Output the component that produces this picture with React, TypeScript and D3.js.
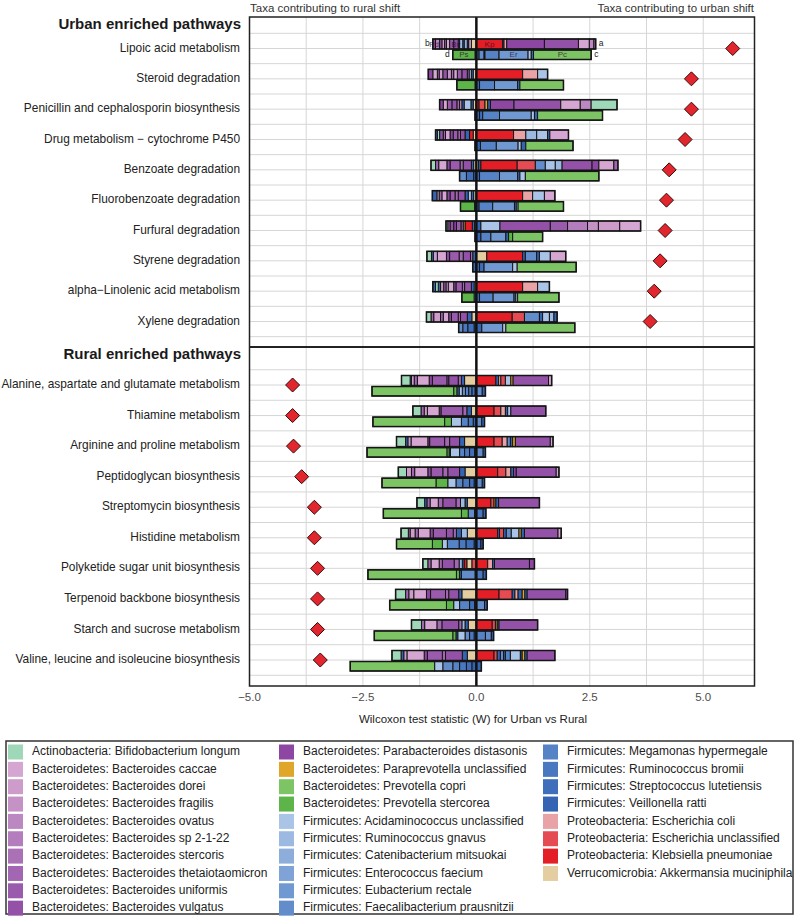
import React from 'react';
import * as d3 from 'd3';

type Seg = [string, number];

// legend / taxa
const taxonNames = [
  'Actinobacteria: Bifidobacterium longum',
  'Bacteroidetes: Bacteroides caccae',
  'Bacteroidetes: Bacteroides dorei',
  'Bacteroidetes: Bacteroides fragilis',
  'Bacteroidetes: Bacteroides ovatus',
  'Bacteroidetes: Bacteroides sp 2-1-22',
  'Bacteroidetes: Bacteroides stercoris',
  'Bacteroidetes: Bacteroides thetaiotaomicron',
  'Bacteroidetes: Bacteroides uniformis',
  'Bacteroidetes: Bacteroides vulgatus',
  'Bacteroidetes: Parabacteroides distasonis',
  'Bacteroidetes: Paraprevotella unclassified',
  'Bacteroidetes: Prevotella copri',
  'Bacteroidetes: Prevotella stercorea',
  'Firmicutes: Acidaminococcus unclassified',
  'Firmicutes: Ruminococcus gnavus',
  'Firmicutes: Catenibacterium mitsuokai',
  'Firmicutes: Enterococcus faecium',
  'Firmicutes: Eubacterium rectale',
  'Firmicutes: Faecalibacterium prausnitzii',
  'Firmicutes: Megamonas hypermegale',
  'Firmicutes: Ruminococcus bromii',
  'Firmicutes: Streptococcus lutetiensis',
  'Firmicutes: Veillonella ratti',
  'Proteobacteria: Escherichia coli',
  'Proteobacteria: Escherichia unclassified',
  'Proteobacteria: Klebsiella pneumoniae',
  'Verrucomicrobia: Akkermansia muciniphila',
];
const taxonCodes = ['Bl', 'Bc', 'Bd', 'Bf', 'Bo', 'Bs', 'Bst', 'Bt', 'Bu', 'Bv', 'Pd', 'Pu', 'Pc', 'Ps',
  'Au', 'Rg', 'Cm', 'Ef', 'Er', 'Fp', 'Mh', 'Rb', 'Sl', 'Vr', 'Ec', 'Eu', 'Kp', 'Am'];
const taxonColors = ['#9fd8b8', '#d6a6d2', '#cd9ccb', '#c592c6', '#bc88c2', '#b47dbd', '#ab71b7', '#a366b2',
  '#9b5bad', '#9451a8', '#8d47a3', '#e0a62a', '#7dc465', '#5db449', '#a9c4e7', '#9bb9e1', '#8daedb',
  '#7fa3d6', '#7098d1', '#638ccb', '#5682c6', '#4a78c0', '#3f6eba', '#3564b3', '#e9a3a7', '#e44b53',
  '#e41e27', '#e4cda1'];

// urban enriched panel
const urbanPathways = [
  'Lipoic acid metabolism', 'Steroid degradation', 'Penicillin and cephalosporin biosynthesis',
  'Drug metabolism \u2212 cytochrome P450', 'Benzoate degradation', 'Fluorobenzoate degradation',
  'Furfural degradation', 'Styrene degradation', 'alpha\u2212Linolenic acid metabolism', 'Xylene degradation',
];
const urbanW = [5.65, 4.74, 4.74, 4.6, 4.25, 4.19, 4.16, 4.05, 3.92, 3.83];
const urbanUpperNeg: Seg[][] = [
  [['Am', 0.11], ['Bc', 0.06], ['Vr', 0.03], ['Cm', 0.07], ['Sl', 0.03], ['Rg', 0.07], ['Bt', 0.03], ['Bv', 0.1], ['Bu', 0.09], ['Bc', 0.07], ['Bt', 0.04], ['Bd', 0.06], ['Bu', 0.05], ['Bo', 0.09], ['Pd', 0.06]],
  [['Am', 0.07], ['Vr', 0.04], ['Rg', 0.05], ['Bt', 0.04], ['Bv', 0.12], ['Bu', 0.1], ['Bc', 0.08], ['Bt', 0.05], ['Bf', 0.09], ['Bv', 0.1], ['Bd', 0.08], ['Bt', 0.04], ['Bc', 0.1], ['Pd', 0.1]],
  [['Am', 0.07], ['Vr', 0.05], ['Au', 0.15], ['Vr', 0.05], ['Bd', 0.05], ['Bt', 0.06], ['Bv', 0.11], ['Bu', 0.1], ['Bc', 0.09], ['Pd', 0.08]],
  [['Am', 0.07], ['Kp', 0.08], ['Vr', 0.1], ['Bv', 0.1], ['Bt', 0.06], ['Bu', 0.1], ['Pd', 0.07], ['Bc', 0.1], ['Bt', 0.05], ['Bv', 0.08], ['Bl', 0.05], ['Vr', 0.04]],
  [['Am', 0.06], ['Vr', 0.05], ['Bv', 0.18], ['Bt', 0.07], ['Bu', 0.22], ['Pd', 0.07], ['Bc', 0.18], ['Bt', 0.07], ['Bl', 0.1]],
  [['Am', 0.06], ['Vr', 0.05], ['Au', 0.07], ['Vr', 0.07], ['Bv', 0.15], ['Bt', 0.07], ['Bu', 0.11], ['Pd', 0.07], ['Bc', 0.11], ['Bt', 0.06], ['Bd', 0.05], ['Vr', 0.1]],
  [['Am', 0.04], ['Vr', 0.05], ['Kp', 0.16], ['Pu', 0.04], ['Bt', 0.05], ['Bu', 0.1], ['Pd', 0.06], ['Bv', 0.08], ['Bt', 0.05], ['Bl', 0.04]],
  [['Vr', 0.08], ['Bt', 0.05], ['Bv', 0.16], ['Bt', 0.09], ['Bu', 0.21], ['Pd', 0.07], ['Bc', 0.2], ['Bd', 0.09], ['Vr', 0.04], ['Bl', 0.1]],
  [['Am', 0.05], ['Vr', 0.06], ['Bv', 0.15], ['Bt', 0.05], ['Bu', 0.14], ['Pd', 0.05], ['Bc', 0.12], ['Bd', 0.05], ['Bt', 0.05], ['Bf', 0.07], ['Vr', 0.05], ['Bl', 0.06], ['Vr', 0.06]],
  [['Am', 0.1], ['Vr', 0.1], ['Bv', 0.15], ['Bt', 0.05], ['Bu', 0.15], ['Pd', 0.06], ['Bc', 0.12], ['Bt', 0.06], ['Bd', 0.15], ['Bt', 0.06], ['Bl', 0.1]],
];
const urbanUpperPos: Seg[][] = [
  [['Kp', 0.58], ['Vr', 0.03], ['Ec', 0.06], ['Pd', 0.83], ['Bv', 0.75], ['Bc', 0.24], ['Bo', 0.1], ['Bt', 0.04]],
  [['Kp', 1.02], ['Ec', 0.33], ['Au', 0.22]],
  [['Kp', 0.06], ['Eu', 0.13], ['Pu', 0.06], ['Vr', 0.06], ['Pd', 0.52], ['Bv', 1.03], ['Bc', 0.43], ['Bo', 0.24], ['Bl', 0.57]],
  [['Kp', 0.82], ['Ec', 0.27], ['Rg', 0.24], ['Au', 0.24], ['Vr', 0.05], ['Bc', 0.41]],
  [['Am', 0.05], ['Vr', 0.05], ['Kp', 0.8], ['Eu', 0.4], ['Fp', 0.22], ['Au', 0.22], ['Rg', 0.15], ['Bv', 0.66], ['Pd', 0.15], ['Bc', 0.33], ['Bt', 0.09]],
  [['Kp', 1.02], ['Ec', 0.22], ['Au', 0.26], ['Bc', 0.23]],
  [['Vr', 0.1], ['Au', 0.42], ['Bv', 1.11], ['Bu', 0.38], ['Bs', 0.44], ['Bf', 0.24], ['Bd', 0.47], ['Bc', 0.46]],
  [['Am', 0.23], ['Kp', 0.79], ['Vr', 0.06], ['Fp', 0.25], ['Vr', 0.06], ['Au', 0.24], ['Bc', 0.34]],
  [['Kp', 1.02], ['Ec', 0.33], ['Au', 0.26]],
  [['Kp', 0.79], ['Eu', 0.27], ['Fp', 0.33], ['Vr', 0.07], ['Au', 0.15], ['Rg', 0.1], ['Vr', 0.07]],
];
const urbanLowerNeg: Seg[][] = [
  [['Vr', 0.03], ['Ps', 0.49]],
  [['Vr', 0.03], ['Ps', 0.4]],
  [['Vr', 0.03]],
  [['Vr', 0.03]],
  [['Vr', 0.06], ['Sl', 0.16], ['Fp', 0.15]],
  [['Vr', 0.04], ['Ps', 0.31]],
  [['Vr', 0.03]],
  [['Vr', 0.08]],
  [['Vr', 0.05], ['Ps', 0.27]],
  [['Vr', 0.05], ['Sl', 0.14], ['Rb', 0.11], ['Fp', 0.09]],
];
const urbanLowerPos: Seg[][] = [
  [['Sl', 0.06], ['Fp', 0.11], ['Vr', 0.02], ['Mh', 0.31], ['Er', 0.64], ['Au', 0.07], ['Vr', 0.05], ['Pc', 1.27]],
  [['Vr', 0.07], ['Mh', 0.33], ['Er', 0.51], ['Sl', 0.05], ['Pc', 0.96]],
  [['Vr', 0.07], ['Sl', 0.07], ['Mh', 0.37], ['Er', 0.7], ['Au', 0.07], ['Vr', 0.07], ['Pc', 1.43]],
  [['Vr', 0.09], ['Mh', 0.35], ['Er', 0.48], ['Au', 0.07], ['Vr', 0.1], ['Pc', 1.04]],
  [['Vr', 0.07], ['Mh', 0.44], ['Er', 0.4], ['Vr', 0.05], ['Au', 0.12], ['Pc', 1.62]],
  [['Vr', 0.06], ['Mh', 0.3], ['Er', 0.48], ['Sl', 0.04], ['Au', 0.04], ['Pc', 1.0]],
  [['Vr', 0.1], ['Mh', 0.22], ['Er', 0.33], ['Vr', 0.06], ['Ps', 0.09], ['Pc', 0.66]],
  [['Vr', 0.07], ['Sl', 0.1], ['Er', 0.63], ['Au', 0.1], ['Pc', 1.3]],
  [['Vr', 0.07], ['Mh', 0.3], ['Er', 0.46], ['Sl', 0.04], ['Au', 0.04], ['Pc', 0.91]],
  [['Vr', 0.12], ['Er', 0.46], ['Au', 0.07], ['Pc', 1.52]],
];

// rural enriched panel
const ruralPathways = [
  'Alanine, aspartate and glutamate metabolism', 'Thiamine metabolism', 'Arginine and proline metabolism',
  'Peptidoglycan biosynthesis', 'Streptomycin biosynthesis', 'Histidine metabolism',
  'Polyketide sugar unit biosynthesis', 'Terpenoid backbone biosynthesis', 'Starch and sucrose metabolism',
  'Valine, leucine and isoleucine biosynthesis',
];
const ruralW = [-4.05, -4.05, -4.03, -3.85, -3.57, -3.57, -3.5, -3.5, -3.5, -3.44];
const ruralUpperNeg: Seg[][] = [
  [['Am', 0.26], ['Vr', 0.07], ['Bt', 0.07], ['Bv', 0.21], ['Bt', 0.04], ['Bu', 0.32], ['Pd', 0.07], ['Bc', 0.26], ['Bt', 0.07], ['Bd', 0.06], ['Vr', 0.03], ['Bl', 0.19]],
  [['Am', 0.11], ['Vr', 0.1], ['Bt', 0.09], ['Bu', 0.48], ['Pd', 0.04], ['Bc', 0.26], ['Bd', 0.07], ['Bt', 0.07], ['Bl', 0.18]],
  [['Am', 0.26], ['Vr', 0.11], ['Bv', 0.22], ['Bt', 0.11], ['Bu', 0.33], ['Pd', 0.04], ['Bc', 0.37], ['Bd', 0.07], ['Vr', 0.05], ['Bl', 0.2]],
  [['Am', 0.25], ['Vr', 0.12], ['Bv', 0.26], ['Bt', 0.11], ['Bu', 0.26], ['Pd', 0.07], ['Bc', 0.29], ['Bt', 0.07], ['Bd', 0.11], ['Bl', 0.18]],
  [['Am', 0.2], ['Vr', 0.05], ['Rg', 0.1], ['Bt', 0.1], ['Bv', 0.29], ['Bt', 0.1], ['Bc', 0.18], ['Bt', 0.07], ['Vr', 0.05], ['Bl', 0.17]],
  [['Am', 0.2], ['Rg', 0.13], ['Vr', 0.11], ['Bt', 0.07], ['Bv', 0.15], ['Bu', 0.29], ['Pd', 0.07], ['Bc', 0.26], ['Bt', 0.07], ['Bd', 0.11], ['Bt', 0.04], ['Bl', 0.16]],
  [['Eu', 0.1], ['Am', 0.11], ['Kp', 0.06], ['Vr', 0.04], ['Rg', 0.07], ['Bt', 0.11], ['Bv', 0.26], ['Bt', 0.07], ['Bc', 0.18], ['Bt', 0.07], ['Bl', 0.11]],
  [['Am', 0.32], ['Vr', 0.07], ['Bv', 0.22], ['Bt', 0.07], ['Bu', 0.33], ['Pd', 0.09], ['Bc', 0.28], ['Bd', 0.11], ['Bt', 0.07], ['Bl', 0.22]],
  [['Am', 0.18], ['Vr', 0.07], ['Rg', 0.07], ['Bt', 0.07], ['Bv', 0.37], ['Bt', 0.11], ['Bc', 0.27], ['Bt', 0.07], ['Bl', 0.22]],
  [['Am', 0.2], ['Vr', 0.11], ['Bv', 0.37], ['Bt', 0.07], ['Bu', 0.33], ['Pd', 0.07], ['Bc', 0.38], ['Bd', 0.07], ['Vr', 0.06], ['Bl', 0.2]],
];
const ruralUpperPos: Seg[][] = [
  [['Kp', 0.43], ['Vr', 0.06], ['Ec', 0.05], ['Eu', 0.1], ['Au', 0.12], ['Pu', 0.05], ['Bv', 0.78], ['Bc', 0.07]],
  [['Kp', 0.39], ['Eu', 0.15], ['Ec', 0.1], ['Vr', 0.05], ['Au', 0.07], ['Bv', 0.77]],
  [['Kp', 0.39], ['Eu', 0.18], ['Ec', 0.11], ['Fp', 0.07], ['Vr', 0.05], ['Pu', 0.06], ['Bv', 0.77], ['Bc', 0.06]],
  [['Kp', 0.47], ['Eu', 0.18], ['Ec', 0.11], ['Vr', 0.06], ['Pd', 0.06], ['Bv', 0.88], ['Bc', 0.06]],
  [['Kp', 0.32], ['Eu', 0.07], ['Pu', 0.04], ['Vr', 0.06], ['Bv', 0.9]],
  [['Kp', 0.47], ['Vr', 0.04], ['Eu', 0.09], ['Vr', 0.06], ['Fp', 0.11], ['Au', 0.17], ['Pu', 0.05], ['Vr', 0.07], ['Bv', 0.74], ['Bc', 0.07]],
  [['Kp', 0.25], ['Ec', 0.11], ['Vr', 0.04], ['Bv', 0.77], ['Pd', 0.11]],
  [['Kp', 0.5], ['Eu', 0.29], ['Vr', 0.06], ['Ec', 0.07], ['Vr', 0.09], ['Pu', 0.06], ['Vr', 0.05], ['Bv', 0.85], ['Pd', 0.04]],
  [['Kp', 0.35], ['Eu', 0.07], ['Pu', 0.04], ['Vr', 0.04], ['Bv', 0.85]],
  [['Kp', 0.39], ['Eu', 0.07], ['Vr', 0.07], ['Fp', 0.07], ['Vr', 0.04], ['Mh', 0.11], ['Au', 0.22], ['Vr', 0.04], ['Pu', 0.06], ['Vr', 0.05], ['Bv', 0.61]],
];
const ruralLowerNeg: Seg[][] = [
  [['Vr', 0.03], ['Sl', 0.07], ['Rb', 0.07], ['Mh', 0.07], ['Fp', 0.07], ['Au', 0.07], ['Vr', 0.05], ['Ps', 0.07], ['Pc', 1.8]],
  [['Vr', 0.07], ['Rb', 0.11], ['Mh', 0.15], ['Au', 0.22], ['Ps', 0.15], ['Pc', 1.58]],
  [['Vr', 0.04], ['Sl', 0.11], ['Rb', 0.11], ['Mh', 0.11], ['Au', 0.2], ['Vr', 0.03], ['Ps', 0.05], ['Pc', 1.76]],
  [['Vr', 0.05], ['Sl', 0.1], ['Rb', 0.15], ['Mh', 0.15], ['Au', 0.18], ['Ps', 0.26], ['Pc', 1.19]],
  [['Vr', 0.04], ['Fp', 0.14], ['Ps', 0.15], ['Pc', 1.72]],
  [['Vr', 0.05], ['Sl', 0.18], ['Rb', 0.15], ['Mh', 0.26], ['Au', 0.11], ['Ps', 0.22], ['Pc', 0.79]],
  [['Vr', 0.03], ['Fp', 0.3], ['Vr', 0.04], ['Ps', 0.07], ['Pc', 1.95]],
  [['Vr', 0.04], ['Sl', 0.11], ['Mh', 0.22], ['Au', 0.13], ['Ps', 0.16], ['Pc', 1.25]],
  [['Vr', 0.05], ['Rb', 0.1], ['Fp', 0.1], ['Au', 0.16], ['Vr', 0.04], ['Ps', 0.07], ['Pc', 1.73]],
  [['Vr', 0.1], ['Sl', 0.12], ['Rb', 0.15], ['Mh', 0.15], ['Fp', 0.22], ['Au', 0.18], ['Pc', 1.86]],
];
const ruralLowerPos: Seg[][] = [
  [['Fp', 0.13], ['Vr', 0.07]],
  [['Fp', 0.12], ['Vr', 0.06]],
  [['Fp', 0.15], ['Vr', 0.05]],
  [['Fp', 0.13], ['Vr', 0.05]],
  [['Rb', 0.15], ['Vr', 0.06]],
  [['Sl', 0.1], ['Vr', 0.05]],
  [['Rb', 0.15], ['Vr', 0.07]],
  [['Fp', 0.18], ['Vr', 0.06]],
  [['Mh', 0.2], ['Fp', 0.13], ['Vr', 0.05]],
  [['Vr', 0.11]],
];

const xTicks = [-5, -2.5, 0, 2.5, 5];
// abbreviations printed inside the first row's bars
const tagUpper = ['Kp', 'Pd', 'Bv'];
const tagLower = ['Ps', 'Er', 'Pc'];

const FONT = '"Liberation Sans", Arial, sans-serif';
const colorOf = d3.scaleOrdinal<string, string>().domain(taxonCodes).range(taxonColors);

const x = d3.scaleLinear().domain([-5, 6.13]).range([249.5, 754.5]);
const plotTop = 17, plotMid = 347, plotBottom = 686;

function stack(segs: Seg[], sign: number) {
  let acc = 0;
  return segs.map(([code, v]) => {
    const a = acc;
    acc += v;
    return { code, x0: sign * a, x1: sign * acc };
  });
}

function Bar({ neg, pos, y0, h, tags }: { neg: Seg[]; pos: Seg[]; y0: number; h: number; tags?: string[] }) {
  const parts = [...stack(neg, -1), ...stack(pos, 1)];
  const lo = x(-d3.sum(neg, s => s[1]));
  const hi = x(d3.sum(pos, s => s[1]));
  const done = new Set<string>();
  return (
    <g>
      {parts.map((p, i) => {
        const a = x(Math.min(p.x0, p.x1));
        const b = x(Math.max(p.x0, p.x1));
        return (
          <rect key={i} x={a} y={y0} width={b - a} height={h} fill={colorOf(p.code)}
            stroke="#151515" strokeWidth={1} />
        );
      })}
      <rect x={lo} y={y0} width={hi - lo} height={h} fill="none" stroke="#151515" strokeWidth={1.5} />
      {tags && parts.map((p, i) => {
        if (!tags.includes(p.code) || done.has(p.code)) return null;
        done.add(p.code);
        return (
          <text key={'t' + i} x={(x(p.x0) + x(p.x1)) / 2} y={y0 + h / 2 + 0.5} textAnchor="middle"
            dominantBaseline="middle" fontSize={8} fontFamily={FONT} fill="rgba(40,10,40,0.75)">{p.code}</text>
        );
      })}
    </g>
  );
}

function Panel({ names, w, uNeg, uPos, lNeg, lPos, y, top, bottom, title, tagged }: any) {
  const step = y(names[1]) - y(names[0]);
  const grid: number[] = [];
  for (let v = y(names[0]) - step / 2; v < bottom; v += step / 2) if (v > top) grid.push(v);
  return (
    <g>
      {grid.map((g, i) => <line key={i} x1={x.range()[0]} x2={x.range()[1]} y1={g} y2={g} stroke="#d6d6d6" strokeWidth={1} />)}
      {d3.range(-5, 6.2, 1.25).map(v => (
        <line key={'v' + v} x1={x(v)} x2={x(v)} y1={top} y2={bottom} stroke="#d6d6d6" strokeWidth={1} />
      ))}
      <text x={241} y={top + 8} textAnchor="end" dominantBaseline="middle" fontSize={15} fontWeight="bold"
        fontFamily={FONT} fill="#1a1a1a">{title}</text>
      {names.map((n: string, i: number) => {
        const cy = y(n);
        const isFirst = tagged && i === 0;
        const upNegEnd = d3.sum(uNeg[i], (s: Seg) => s[1]);
        const upPosEnd = d3.sum(uPos[i], (s: Seg) => s[1]);
        const loNegEnd = d3.sum(lNeg[i], (s: Seg) => s[1]);
        const loPosEnd = d3.sum(lPos[i], (s: Seg) => s[1]);
        return (
          <g key={n}>
            <text x={240} y={cy} textAnchor="end" dominantBaseline="middle" fontSize={11.9} fontFamily={FONT}
              fill="#222">{n}</text>
            <Bar neg={uNeg[i]} pos={uPos[i]} y0={cy - 9.5} h={10} tags={isFirst ? tagUpper : undefined} />
            <Bar neg={lNeg[i]} pos={lPos[i]} y0={cy + 1.5} h={9.5} tags={isFirst ? tagLower : undefined} />
            {isFirst && (
              <g fontSize={8.5} fontFamily={FONT} fill="#222" dominantBaseline="middle">
                <text x={x(-upNegEnd) - 3} y={cy - 4.5} textAnchor="end">b</text>
                <text x={x(upPosEnd) + 3} y={cy - 4.5}>a</text>
                <text x={x(-loNegEnd) - 3} y={cy + 6.5} textAnchor="end">d</text>
                <text x={x(loPosEnd) + 3} y={cy + 6.5}>c</text>
              </g>
            )}
            <path d={`M${x(w[i])},${cy - 7}L${x(w[i]) + 7},${cy}L${x(w[i])},${cy + 7}L${x(w[i]) - 7},${cy}Z`}
              fill="#e2262d" stroke="#3a0a0a" strokeWidth={1} />
          </g>
        );
      })}
    </g>
  );
}

export default function App() {
  const yTop = d3.scalePoint<string>().domain(urbanPathways).range([48.5, 321.5]);
  const yBot = d3.scalePoint<string>().domain(ruralPathways).range([385, 660]);
  const legendCols = [[0, 10], [10, 20], [20, 28]];
  const legendX = [[8, 32], [279, 303], [543, 567]];
  return (
    <svg width={800} height={918} style={{ position: 'absolute', left: 0, top: 0, background: '#fff' }}>
      <text x={250} y={9} dominantBaseline="middle" fontSize={11.5} fontFamily={FONT} fill="#333">Taxa contributing to rural shift</text>
      <text x={754} y={9} textAnchor="end" dominantBaseline="middle" fontSize={11.5} fontFamily={FONT} fill="#333">Taxa contributing to urban shift</text>
      <Panel names={urbanPathways} w={urbanW} uNeg={urbanUpperNeg} uPos={urbanUpperPos} lNeg={urbanLowerNeg}
        lPos={urbanLowerPos} y={yTop} top={plotTop} bottom={plotMid} title="Urban enriched pathways" tagged />
      <Panel names={ruralPathways} w={ruralW} uNeg={ruralUpperNeg} uPos={ruralUpperPos} lNeg={ruralLowerNeg}
        lPos={ruralLowerPos} y={yBot} top={plotMid} bottom={plotBottom} title="Rural enriched pathways" />
      <line x1={x(0)} x2={x(0)} y1={plotTop} y2={plotBottom} stroke="#111" strokeWidth={2.5} />
      <rect x={x.range()[0]} y={plotTop} width={x.range()[1] - x.range()[0]} height={plotBottom - plotTop}
        fill="none" stroke="#222" strokeWidth={1.5} />
      <line x1={x.range()[0]} x2={x.range()[1]} y1={plotMid} y2={plotMid} stroke="#222" strokeWidth={2} />
      {xTicks.map(t => (
        <text key={t} x={x(t)} y={698} textAnchor="middle" dominantBaseline="middle" fontSize={11.5}
          fontFamily={FONT} fill="#4d4d4d">{d3.format('.1f')(t).replace('-', '\u2212')}</text>
      ))}
      <text x={473} y={720} textAnchor="middle" dominantBaseline="middle" fontSize={11.5} fontFamily={FONT}
        fill="#222">Wilcoxon test statistic (W) for Urban vs Rural</text>
      <rect x={6} y={741} width={787} height={173} fill="#fff" stroke="#333" strokeWidth={1.5} />
      {legendCols.map(([a, b], c) => d3.range(a, b).map((k, r) => (
        <g key={k}>
          <rect x={legendX[c][0]} y={744.5 + r * 17.35} width={15} height={15} fill={taxonColors[k]} />
          <text x={legendX[c][1]} y={752 + r * 17.35} dominantBaseline="middle" fontSize={12} fontFamily={FONT}
            fill="#222">{taxonNames[k]}</text>
        </g>
      )))}
    </svg>
  );
}
